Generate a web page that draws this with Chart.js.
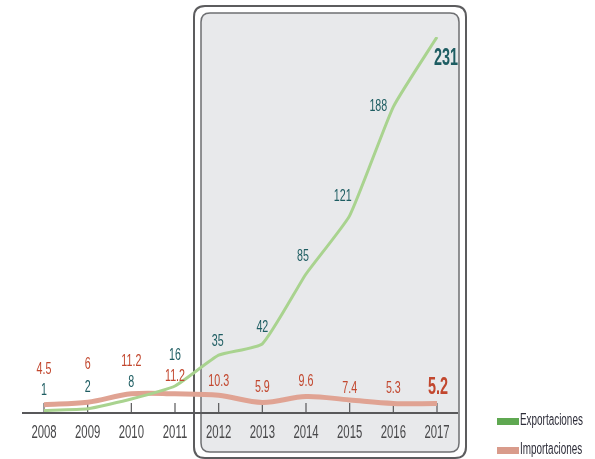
<!DOCTYPE html>
<html>
<head>
<meta charset="utf-8">
<script src="https://cdn.jsdelivr.net/npm/chart.js@4.4.0/dist/chart.umd.min.js"></script>
<style>
  html, body { margin: 0; padding: 0; background: #ffffff; }
  #wrap { width: 595px; height: 459px; position: relative; }
</style>
</head>
<body>
<div id="wrap"><canvas id="chart" width="595" height="459"></canvas></div>
<script>
const years = ['2008', '2009', '2010', '2011', '2012', '2013', '2014', '2015', '2016', '2017'];
const exportaciones = [1, 2, 8, 16, 35, 42, 85, 121, 188, 231];
const importaciones = [4.5, 6, 11.2, 11.2, 10.3, 5.9, 9.6, 7.4, 5.3, 5.2];
const exportLabels = ['1', '2', '8', '16', '35', '42', '85', '121', '188', '231'];
const importLabels = ['4.5', '6', '11.2', '11.2', '10.3', '5.9', '9.6', '7.4', '5.3', '5.2'];

const FONT = "'Liberation Sans', Arial, sans-serif";

// rounded rectangle helper
function roundRect(ctx, x, y, w, h, r) {
    ctx.beginPath();
    ctx.moveTo(x + r, y);
    ctx.lineTo(x + w - r, y);
    ctx.quadraticCurveTo(x + w, y, x + w, y + r);
    ctx.lineTo(x + w, y + h - r);
    ctx.quadraticCurveTo(x + w, y + h, x + w - r, y + h);
    ctx.lineTo(x + r, y + h);
    ctx.quadraticCurveTo(x, y + h, x, y + h - r);
    ctx.lineTo(x, y + r);
    ctx.quadraticCurveTo(x, y, x + r, y);
    ctx.closePath();
}

// condensed text: squeeze horizontally around the anchor point
function narrowText(ctx, text, x, y, sx) {
    ctx.save();
    ctx.translate(x, y);
    ctx.scale(sx, 1);
    ctx.fillText(text, 0, 0);
    ctx.restore();
}

// grey framed panel behind the 2012-2017 period
const panelPlugin = {
    id: 'panel',
    beforeDatasetsDraw(chart) {
        const ctx = chart.ctx;
        ctx.save();
        roundRect(ctx, 194, 6, 272, 452, 11);
        ctx.lineWidth = 2;
        ctx.strokeStyle = '#5c5c5e';
        ctx.stroke();
        roundRect(ctx, 201, 13, 258, 439, 9);
        ctx.fillStyle = '#e8e9eb';
        ctx.fill();
        ctx.lineWidth = 1.5;
        ctx.strokeStyle = '#6e6f72';
        ctx.stroke();

        // baseline, ticks and year labels from the x scale
        const x = chart.scales.x;
        const y0 = chart.scales.y.getPixelForValue(0) + 1;
        ctx.strokeStyle = '#58585a';
        ctx.lineWidth = 2;
        ctx.beginPath();
        ctx.moveTo(22, y0);
        ctx.lineTo(458, y0);
        ctx.stroke();
        ctx.lineWidth = 1.2;
        ctx.fillStyle = '#48484a';
        ctx.font = '18px ' + FONT;
        ctx.textAlign = 'center';
        ctx.textBaseline = 'middle';
        years.forEach((yr, i) => {
            const px = x.getPixelForValue(i);
            ctx.beginPath();
            ctx.moveTo(px, y0);
            ctx.lineTo(px, y0 - 10);
            ctx.stroke();
            narrowText(ctx, yr, px, y0 + 20, 0.63);
        });
        ctx.restore();
    }
};

// value labels next to each point
const valueLabelPlugin = {
    id: 'valueLabels',
    afterDatasetsDraw(chart, args, opts) {
        const ctx = chart.ctx;
        ctx.save();
        ctx.textAlign = 'center';
        ctx.textBaseline = 'middle';
        opts.sets.forEach(set => {
            const meta = chart.getDatasetMeta(set.dataset);
            meta.data.forEach((pt, i) => {
                const last = i === meta.data.length - 1;
                ctx.font = last ? 'bold 24px ' + FONT : '17px ' + FONT;
                ctx.fillStyle = set.color;
                const off = set.offsets[i];
                narrowText(ctx, set.labels[i], pt.x + off[0], pt.y + off[1], last ? 0.6 : 0.63);
            });
        });
        ctx.restore();
    }
};

// legend in the lower right corner
const legendPlugin = {
    id: 'sideLegend',
    afterDraw(chart) {
        const ctx = chart.ctx;
        ctx.save();
        ctx.font = '16px ' + FONT;
        ctx.textBaseline = 'middle';
        ctx.textAlign = 'left';
        const swatches = ['#5fa851', '#d99b8b'];
        chart.data.datasets.forEach((ds, i) => {
            const y = 421 + i * 29;
            ctx.fillStyle = swatches[i];
            ctx.fillRect(497, y - 3, 22, 7);
            ctx.fillStyle = '#2e2e3a';
            narrowText(ctx, ds.label, 520, y, 0.62);
        });
        ctx.restore();
    }
};

new Chart(document.getElementById('chart'), {
    type: 'line',
    data: {
        labels: years,
        datasets: [
            {
                label: 'Exportaciones',
                data: exportaciones,
                borderColor: '#a9d38f',
                borderWidth: 3,
                pointRadius: 0,
                tension: 0.15
            },
            {
                label: 'Importaciones',
                data: importaciones,
                borderColor: '#e0a393',
                borderWidth: 5,
                pointRadius: 0,
                tension: 0.35
            }
        ]
    },
    options: {
        responsive: false,
        animation: false,
        layout: { padding: { left: 44, right: 158, top: 37, bottom: 47 } },
        scales: {
            x: { display: false, offset: false },
            y: { display: false, min: 0, max: 231 }
        },
        plugins: {
            legend: { display: false },
            tooltip: { enabled: false },
            valueLabels: {
                sets: [
                    {
                        dataset: 0,
                        labels: exportLabels,
                        color: '#1e5d62',
                        offsets: [[0, -20], [0, -21], [0, -17], [0, -31], [-1, -14], [0, -17], [-3, -18], [-7, -19], [-15, 0], [9, 21]]
                    },
                    {
                        dataset: 1,
                        labels: importLabels,
                        color: '#c2472e',
                        offsets: [[0, -35], [0, -38], [0, -33], [0, -18], [0, -14], [0, -15], [0, -15], [0, -12], [0, -15], [1, -16]]
                    }
                ]
            }
        }
    },
    plugins: [panelPlugin, valueLabelPlugin, legendPlugin]
});
</script>
</body>
</html>
